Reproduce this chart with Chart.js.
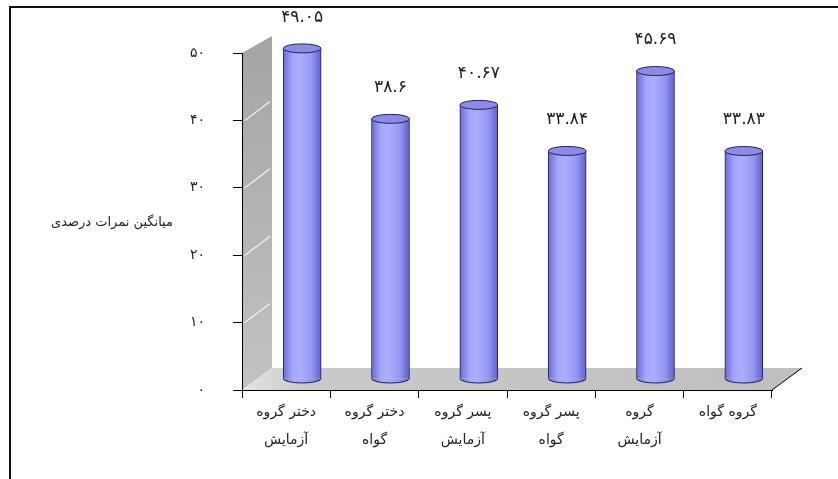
<!DOCTYPE html>
<html lang="fa">
<head>
<meta charset="utf-8">
<script src="https://cdn.jsdelivr.net/npm/chart.js@4"></script>
<style>
html, body { margin: 0; padding: 0; background: #fff; }
#wrap { position: relative; width: 838px; height: 479px; }
#frame { position: absolute; left: 9px; top: 6px; right: 0; bottom: 0; border-top: 2px solid #111; border-left: 2px solid #111; pointer-events: none; }
</style>
</head>
<body>
<div id="wrap"><canvas id="chart"></canvas><div id="frame"></div></div>
<script>
const categories = [
    ['دختر گروه', 'آزمایش'],
    ['دختر گروه', 'گواه'],
    ['پسر گروه', 'آزمایش'],
    ['پسر گروه', 'گواه'],
    ['گروه', 'آزمایش'],
    ['گروه گواه'],
];
const scores = [49.05, 38.6, 40.67, 33.84, 45.69, 33.83];
const yTicks = [0, 10, 20, 30, 40, 50];
const yTitle = 'میانگین نمرات درصدی';

const FONT = 'DejaVu Sans';
const faDigits = '۰۱۲۳۴۵۶۷۸۹';
function toFa(n) {
    return String(n).replace(/\d/g, d => faDigits[d]);
}

// fake 3d: the bars stand half way back on the floor
const BAR_DX = 16, BAR_DY = -11;
const BAR_W = 38;

function cylGrad(ctx, cx, r) {
    const g = ctx.createLinearGradient(cx - r, 0, cx + r, 0);
    g.addColorStop(0, '#6b6bd0');
    g.addColorStop(0.25, '#a5a5ff');
    g.addColorStop(0.45, '#acacff');
    g.addColorStop(0.75, '#9595f2');
    g.addColorStop(1, '#6060c4');
    return g;
}

const depth = {
    id: 'depth',
    beforeDraw(chart) {
        const {ctx, chartArea: a, scales: {y}} = chart;
        ctx.save();
        // side wall
        let g = ctx.createLinearGradient(0, a.top, 0, a.bottom);
        g.addColorStop(0, '#a6a6a6');
        g.addColorStop(1, '#c2c2c2');
        ctx.fillStyle = g;
        ctx.beginPath();
        ctx.moveTo(a.left, a.top);
        ctx.lineTo(a.left + 30, a.top - 17);
        ctx.lineTo(a.left + 30, a.bottom - 22);
        ctx.lineTo(a.left, a.bottom);
        ctx.closePath();
        ctx.fill();
        ctx.strokeStyle = '#f2f2f2';
        ctx.lineWidth = 1.2;
        yTicks.slice(1, -1).forEach(v => {
            const py = y.getPixelForValue(v);
            ctx.beginPath();
            ctx.moveTo(a.left + 3, py);
            ctx.lineTo(a.left + 28, py - 19);
            ctx.stroke();
        });
        // floor
        g = ctx.createLinearGradient(a.left, 0, a.right, 0);
        g.addColorStop(0, '#e4e4e4');
        g.addColorStop(0.12, '#cacaca');
        g.addColorStop(1, '#bfbfbf');
        ctx.fillStyle = g;
        ctx.beginPath();
        ctx.moveTo(a.left, a.bottom);
        ctx.lineTo(a.left + 30, a.bottom - 22);
        ctx.lineTo(a.right + 30, a.bottom - 22);
        ctx.lineTo(a.right, a.bottom);
        ctx.closePath();
        ctx.fill();
        ctx.strokeStyle = '#000';
        ctx.lineWidth = 1;
        ctx.beginPath();
        ctx.moveTo(a.right, a.bottom);
        ctx.lineTo(a.right + 30, a.bottom - 22);
        ctx.stroke();
        ctx.restore();
    },
    beforeDatasetsDraw(chart) {
        chart.ctx.save();
        chart.ctx.translate(BAR_DX, BAR_DY);
    },
    afterDatasetsDraw(chart) {
        const ctx = chart.ctx;
        chart.getDatasetMeta(0).data.forEach((bar, i) => {
            const r = bar.width / 2, ry = 4.5;
            ctx.lineWidth = 1;
            ctx.strokeStyle = '#20205e';
            ctx.fillStyle = cylGrad(ctx, bar.x, r);
            ctx.beginPath();
            ctx.ellipse(bar.x, bar.base, r, ry, 0, 0, Math.PI);
            ctx.fill();
            ctx.stroke();
            ctx.beginPath();
            ctx.ellipse(bar.x, bar.y, r, ry, 0, 0, Math.PI * 2);
            ctx.fillStyle = '#8c8ce4';
            ctx.fill();
            ctx.stroke();
            // value label
            ctx.fillStyle = '#222';
            ctx.font = '17px "' + FONT + '"';
            ctx.textAlign = 'center';
            ctx.textBaseline = 'middle';
            ctx.fillText(toFa(scores[i]), bar.x, bar.y - 31);
        });
        ctx.restore();
    },
    afterDraw(chart) {
        const {ctx, chartArea: a, scales: {y}} = chart;
        ctx.save();
        ctx.fillStyle = '#222';
        ctx.font = '13px "' + FONT + '"';
        ctx.textAlign = 'center';
        ctx.textBaseline = 'middle';
        ctx.fillText(yTitle, a.left - 130, y.getPixelForValue(25) + 1);
        ctx.restore();
    }
};

const data = {
    labels: categories,
    datasets: [{
        data: scores,
        barThickness: BAR_W,
        backgroundColor: c => {
            const ch = c.chart;
            if (!ch.chartArea) return '#9999ff';
            const x = ch.scales.x.getPixelForValue(c.dataIndex);
            return cylGrad(ch.ctx, x, BAR_W / 2);
        },
        borderColor: '#20205e',
        borderWidth: {left: 1, right: 1, top: 0, bottom: 0},
        clip: false,
    }]
};

const config = {
    type: 'bar',
    data: data,
    options: {
        responsive: true,
        maintainAspectRatio: false,
        animation: false,
        layout: {padding: {left: 10, top: 53, right: 66, bottom: 0}},
        plugins: {
            legend: {display: false},
            tooltip: {enabled: false},
        },
        scales: {
            x: {
                grid: {drawOnChartArea: false, offset: true, tickLength: 8, tickColor: '#000'},
                border: {color: '#000', width: 1},
                ticks: {
                    color: '#222',
                    font: {family: FONT, size: 14, lineHeight: 1.95},
                    padding: 1,
                    maxRotation: 0,
                    autoSkip: false,
                },
                afterFit: s => { s.height = 89; },
            },
            y: {
                min: 0,
                max: 50,
                afterBuildTicks: s => { s.ticks = yTicks.map(v => ({value: v})); },
                grid: {drawOnChartArea: false, tickLength: 9, tickColor: '#000'},
                border: {color: '#000', width: 1},
                ticks: {
                    color: '#222',
                    font: {family: FONT, size: 14},
                    padding: 28,
                    callback: v => toFa(v),
                },
                afterFit: s => { s.width = 232; },
            }
        }
    },
    plugins: [depth],
};

const myChart = new Chart(document.getElementById('chart'), config);
</script>
</body>
</html>
